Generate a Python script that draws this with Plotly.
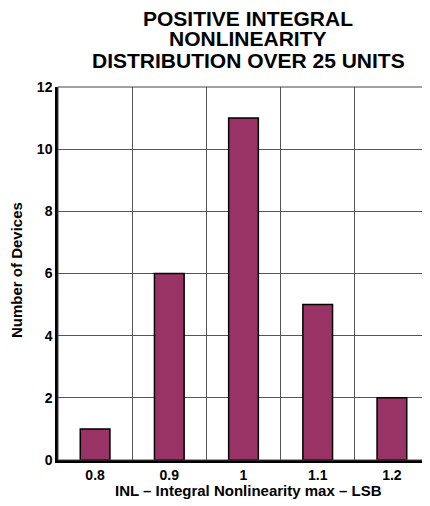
import plotly.graph_objects as go

categories = ["0.8", "0.9", "1", "1.1", "1.2"]
counts = [1, 6, 11, 5, 2]
title_lines = ["POSITIVE INTEGRAL", "NONLINEARITY", "DISTRIBUTION OVER 25 UNITS"]
x_title = "INL – Integral Nonlinearity max – LSB"
y_title = "Number of Devices"
y_ticks = [0, 2, 4, 6, 8, 10, 12]

font_family = "Liberation Sans, Arial, sans-serif"
OFF = 8  # default page body margin
W, H = 430 - OFF, 506 - OFF
L, R, T, B = 58 - OFF, 1, 87 - OFF, 46
plot_h = H - T - B
plot_w = W - L - R


def py(p):
    return 1 + (T - (p - OFF)) / plot_h


def px(p):
    return ((p - OFF) - L) / plot_w


fig = go.Figure(go.Bar(
    x=categories, y=counts,
    marker=dict(color="#993366", line=dict(color="#000000", width=1.5)),
    width=0.4,
))

annotations = []
for line, cy in zip(title_lines, [19, 39, 61]):
    annotations.append(dict(
        text="<b>" + line + "</b>", x=px(248), y=py(cy), xref="paper", yref="paper",
        xanchor="center", yanchor="middle", showarrow=False,
        font=dict(size=21, family=font_family, color="black"),
    ))
annotations.append(dict(
    text="<b>" + x_title + "</b>", x=px(248), y=py(490), xref="paper", yref="paper",
    xanchor="center", yanchor="middle", showarrow=False,
    font=dict(size=15, family=font_family, color="black"),
))
annotations.append(dict(
    text="<b>" + y_title + "</b>", x=px(16), y=py(270), xref="paper", yref="paper",
    xanchor="center", yanchor="middle", showarrow=False, textangle=-90,
    font=dict(size=15, family=font_family, color="black"),
))

fig.update_layout(
    width=W, height=H,
    margin=dict(l=L, r=R, t=T, b=B),
    paper_bgcolor="white", plot_bgcolor="white",
    font=dict(family=font_family, color="black"),
    showlegend=False,
    annotations=annotations,
    shapes=[dict(type="rect", xref="paper", yref="paper", x0=0, x1=1, y0=0, y1=1,
                 line=dict(color="#444444", width=1), layer="above")],
)

fig.update_xaxes(
    type="category", tickson="boundaries", showgrid=True,
    gridcolor="#555555", gridwidth=1, automargin=False,
    ticks="", showline=True, linecolor="black", linewidth=2.5,
    tickfont=dict(size=14, family=font_family, color="black", weight="bold"),
)
fig.update_yaxes(
    range=[0, 12], tickvals=y_ticks, showgrid=True, automargin=False,
    gridcolor="#555555", gridwidth=1, zeroline=False,
    ticks="", showline=True, linecolor="black", linewidth=2.5,
    tickfont=dict(size=14, family=font_family, color="black", weight="bold"),
)

fig.write_html("out.html")
